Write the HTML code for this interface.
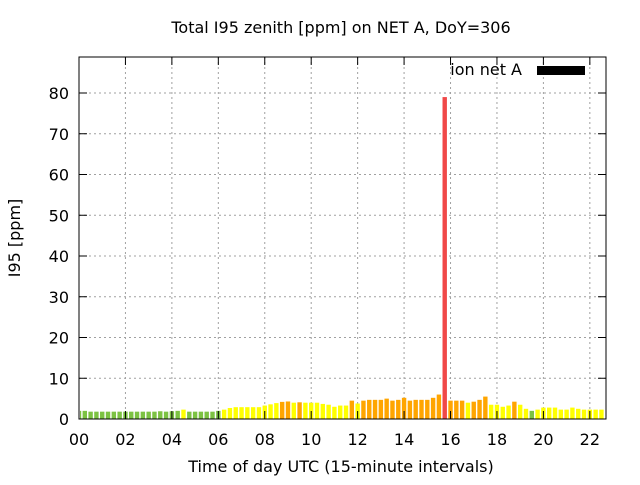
<!DOCTYPE html>
<html><head><meta charset="utf-8"><style>
body{margin:0;background:#fff;width:640px;height:480px;overflow:hidden}
svg{font-family:"DejaVu Sans","Liberation Sans",sans-serif}
</style></head><body>
<svg id="chart" width="640" height="480">
<text x="341" y="33" text-anchor="middle" font-size="16">Total I95 zenith [ppm] on NET A, DoY=306</text>
<text x="341" y="472" text-anchor="middle" font-size="16">Time of day UTC (15-minute intervals)</text>
<text transform="translate(20,238) rotate(-90)" text-anchor="middle" font-size="16">I95 [ppm]</text>
<g id="grid"></g><g id="bars"></g><g id="axes"></g>
<g>
<text x="522" y="75" text-anchor="end" font-size="16">ion net A</text>
<rect x="537" y="66" width="48" height="9" fill="#000"/>
</g>
</svg>
<script>
const times = [];
const values = [2.0,2.0,1.8,1.8,1.8,1.8,1.8,1.8,1.8,1.8,1.8,1.8,1.8,1.8,1.9,1.8,1.9,2.0,2.3,1.8,1.8,1.8,1.8,1.8,2.0,2.3,2.7,2.9,2.9,2.9,2.9,2.9,3.3,3.6,3.9,4.2,4.3,4.0,4.1,4.0,4.0,4.0,3.7,3.5,3.0,3.3,3.3,4.5,3.8,4.5,4.7,4.7,4.7,5.0,4.5,4.7,5.2,4.5,4.7,4.7,4.7,5.2,6.0,79,4.5,4.5,4.5,4.0,4.25,4.7,5.5,3.5,3.5,3.0,3.3,4.25,3.5,2.5,2.0,2.3,2.8,2.8,2.8,2.3,2.3,2.8,2.5,2.3,2.3,2.3,2.3,2.2];
for(let i=0;i<values.length;i++) times.push(i*0.25);
const xTicks = ["00","02","04","06","08","10","12","14","16","18","20","22"];
const yTicks = [0,10,20,30,40,50,60,70,80];
const X0=79,X1=606,Y0=419,Y1=57;
const xs=t=>X0+t*23.22;
const ys=v=>Y0-v*4.075;
const NS="http://www.w3.org/2000/svg";
function mk(tag,attrs,parent){const e=document.createElementNS(NS,tag);for(const k in attrs)e.setAttribute(k,attrs[k]);parent.appendChild(e);return e;}
const grid=document.getElementById('grid'),bars=document.getElementById('bars'),axes=document.getElementById('axes');
yTicks.forEach(v=>{
  if(v>0){const l=mk('line',{x1:X0,x2:X1,y1:ys(v),y2:ys(v),stroke:'#a0a0a0','stroke-dasharray':'2,3'},grid);
  
  }
  mk('line',{x1:X0,x2:X0+8,y1:ys(v),y2:ys(v),stroke:'#000'},axes);
  mk('line',{x1:X1,x2:X1-8,y1:ys(v),y2:ys(v),stroke:'#000'},axes);
  const t=mk('text',{x:X0-10,y:ys(v)+6,'text-anchor':'end','font-size':16},axes);
  t.textContent=v;
  
  
});
xTicks.forEach(s=>{
  const h=parseInt(s,10),x=xs(h);
  if(h>0){const l=mk('line',{x1:x,x2:x,y1:Y0,y2:Y1,stroke:'#a0a0a0','stroke-dasharray':'2,3'},grid);
  
  }
  mk('line',{x1:x,x2:x,y1:Y0,y2:Y0-8,stroke:'#000'},axes);
  mk('line',{x1:x,x2:x,y1:Y1,y2:Y1+8,stroke:'#000'},axes);
  const t=mk('text',{x:x,y:445,'text-anchor':'middle','font-size':16},axes);
  t.textContent=s;
  
  
});
function col(v){return v<=2.05?'#7cc242':v<4.1?'#ffff00':v<10?'#ffa500':'#f04848';}
values.forEach((v,i)=>{
  let l=xs(times[i])-2.2,r=xs(times[i])+2.2;
  l=Math.max(l,X0+1);r=Math.min(r,X1-1);
  if(r<=l)return;
  const b=mk('rect',{x:l,y:ys(v),width:r-l,height:Y0-ys(v),fill:col(v)},bars);
  
  
});
const fr=mk('rect',{x:X0,y:Y1,width:X1-X0,height:Y0-Y1,fill:'none',stroke:'#000'},axes);


</script>
</body></html>
